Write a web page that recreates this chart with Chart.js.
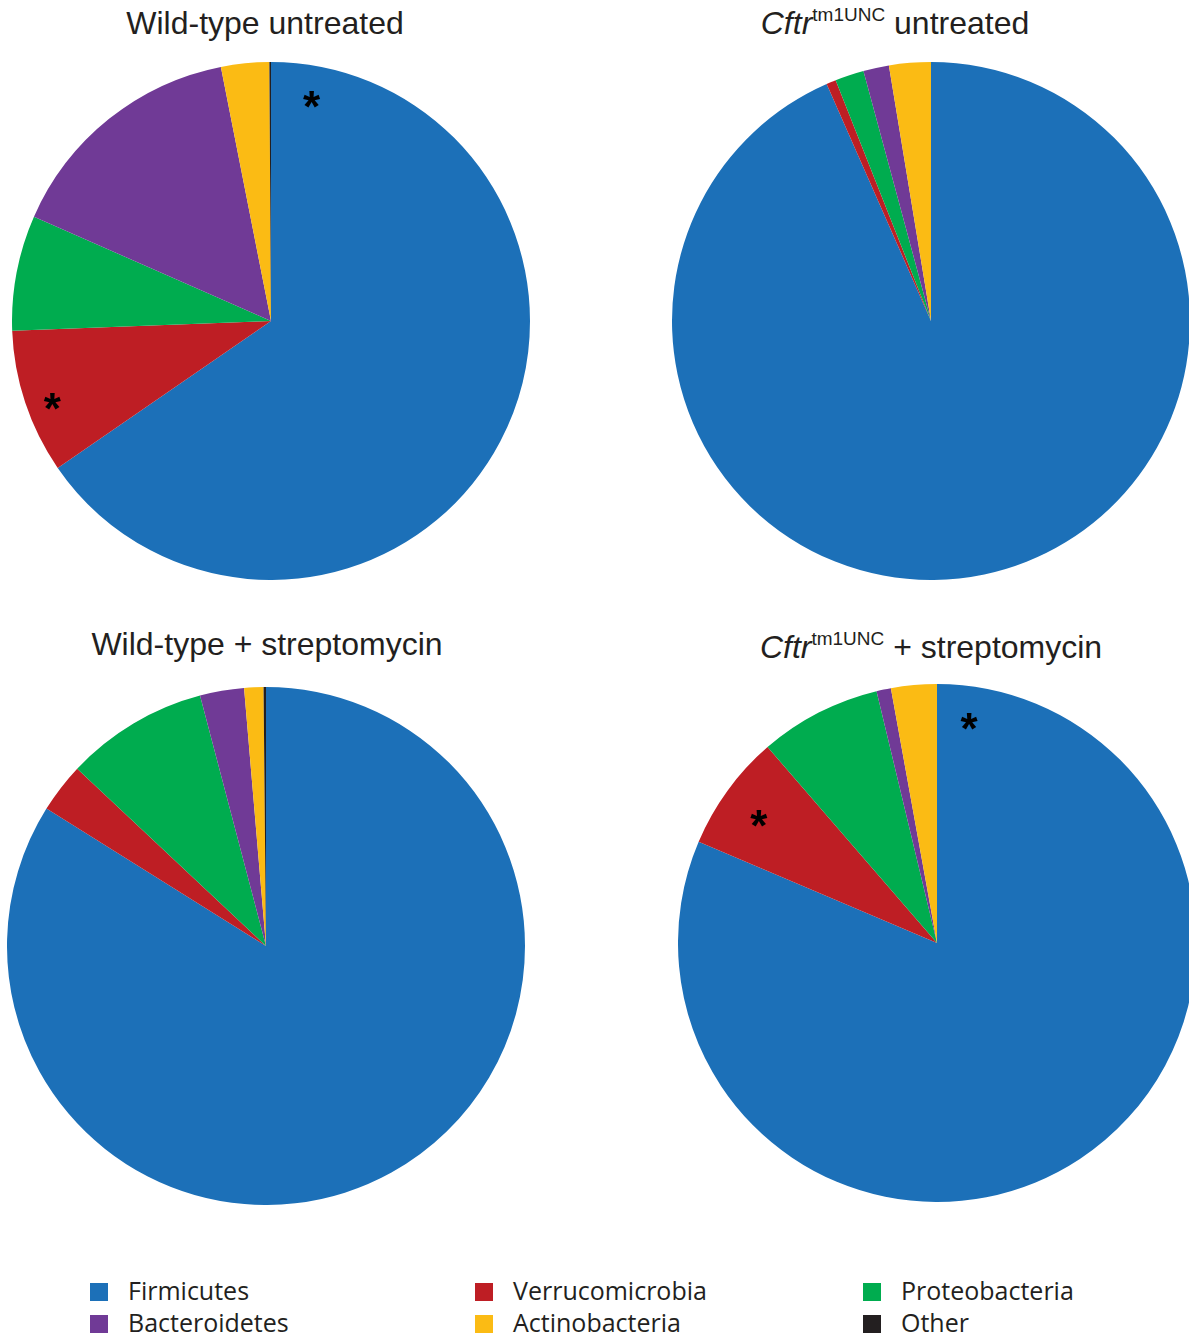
<!DOCTYPE html>
<html>
<head>
<meta charset="utf-8">
<script src="https://cdn.jsdelivr.net/npm/chart.js@4.4.0/dist/chart.umd.min.js"></script>
<style>
  body { margin: 0; width: 1189px; height: 1335px; overflow: hidden; background: #fff; position: relative; }
  .box { position: absolute; width: 518px; height: 518px; }
  .title { position: absolute; width: 540px; text-align: center; font-family: "Liberation Sans", Arial, sans-serif; font-size: 32px; color: #231f20; white-space: nowrap; }
  .title sup { font-size: 19px; vertical-align: 0; position: relative; top: -13px; }
  #legend { position: absolute; left: 88px; top: 1274px; display: grid; grid-template-columns: 385px 388px 300px; row-gap: 1px; font-family: "Open Sans", sans-serif; font-size: 25px; color: #231f20; }
  #legend div { display: flex; align-items: center; height: 31px; }
  #legend span.sw { display: inline-block; width: 18px; height: 18px; margin: 4px 20px 0 2px; }
</style>
</head>
<body>

<div class="title" style="left:-5px; top:5px;">Wild-type untreated</div>
<div class="title" style="left:625px; top:5px;"><i>Cftr</i><sup>tm1UNC</sup> untreated</div>
<div class="title" style="left:-3px; top:626px;">Wild-type + streptomycin</div>
<div class="title" style="left:661px; top:629px;"><i>Cftr</i><sup>tm1UNC</sup> + streptomycin</div>

<div class="box" style="left:12px; top:62px;"><canvas id="pie1"></canvas></div>
<div class="box" style="left:672px; top:62px;"><canvas id="pie2"></canvas></div>
<div class="box" style="left:7px; top:687px;"><canvas id="pie3"></canvas></div>
<div class="box" style="left:678px; top:684px;"><canvas id="pie4"></canvas></div>

<div id="legend"></div>

<script>
// phyla, clockwise from 12 o'clock
var phyla = ["Firmicutes", "Verrucomicrobia", "Proteobacteria", "Bacteroidetes", "Actinobacteria", "Other"];
var phylaColors = ["#1c70b8", "#be1e24", "#00ac4f", "#703a96", "#fbbb14", "#231f20"];

// relative abundance (%)
var wtUntreated   = [65.4, 9.0, 7.2, 15.3, 3.0, 0.1];
var cftrUntreated = [93.4, 0.6, 1.8, 1.6, 2.6, 0];
var wtStrep       = [83.9, 3.1, 8.9, 2.75, 1.2, 0.15];
var cftrStrep     = [81.4, 7.25, 7.6, 0.9, 2.85, 0];

// asterisks: [slice index, fraction along slice, fraction of radius]
var wtUntreatedStars = [[0, 0.044, 0.87], [1, 0.44, 0.9]];
var cftrStrepStars   = [[0, 0.028, 0.865], [1, 0.46, 0.84]];

// legend order (row by row)
var legendOrder = [0, 1, 2, 3, 4, 5];

var starPlugin = {
  id: "stars",
  afterDatasetsDraw: function(chart) {
    var stars = chart.options.plugins.stars.list;
    if (!stars) return;
    var ctx = chart.ctx;
    var arcs = chart.getDatasetMeta(0).data;
    ctx.save();
    ctx.fillStyle = "#000";
    ctx.font = "bold 44px 'Liberation Sans', Arial, sans-serif";
    ctx.textAlign = "center";
    ctx.textBaseline = "alphabetic";
    for (var i = 0; i < stars.length; i++)
    {
      var arc = arcs[stars[i][0]];
      var a = arc.startAngle + (arc.endAngle - arc.startAngle) * stars[i][1];
      var r = arc.outerRadius * stars[i][2];
      var x = arc.x + Math.cos(a) * r;
      var y = arc.y + Math.sin(a) * r;
      var m = ctx.measureText("*");
      ctx.fillText("*", x, y + (m.actualBoundingBoxAscent - m.actualBoundingBoxDescent) / 2);
    }
    ctx.restore();
  }
};

function makePie(id, values, stars)
{
  return new Chart(document.getElementById(id), {
    type: "pie",
    data: {
      labels: phyla,
      datasets: [{
        data: values,
        backgroundColor: phylaColors,
        borderWidth: 0,
        hoverOffset: 0
      }]
    },
    options: {
      responsive: true,
      maintainAspectRatio: false,
      animation: false,
      layout: { padding: 0 },
      plugins: {
        legend: { display: false },
        tooltip: { enabled: false },
        stars: { list: stars }
      }
    },
    plugins: [starPlugin]
  });
}

var charts = new Array();
charts.push(makePie("pie1", wtUntreated, wtUntreatedStars));
charts.push(makePie("pie2", cftrUntreated, null));
charts.push(makePie("pie3", wtStrep, null));
charts.push(makePie("pie4", cftrStrep, cftrStrepStars));

// legend
var legend = document.getElementById("legend");
legendOrder.forEach(function(i) {
  var item = document.createElement("div");
  item.innerHTML = '<span class="sw" style="background:' + phylaColors[i] + '"></span>' + phyla[i];
  legend.appendChild(item);
});
</script>
</body>
</html>
